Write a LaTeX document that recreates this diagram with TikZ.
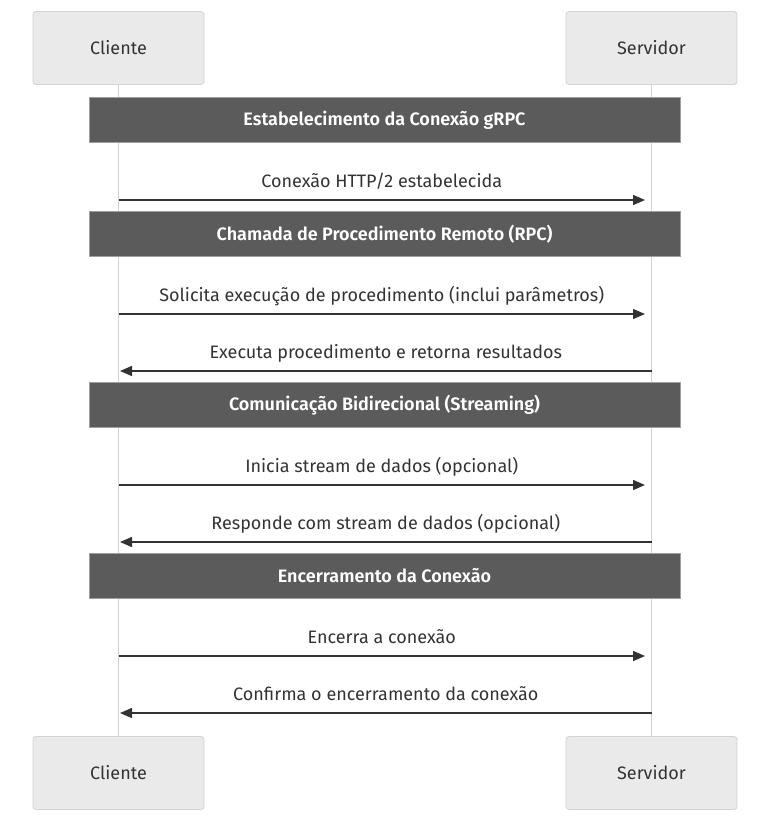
\documentclass[tikz,border=0pt]{standalone}
\usepackage{fontspec}
\setmainfont{Fira Sans}[BoldFont={Fira Sans SemiBold}]
\usepackage{tikz}
\usetikzlibrary{arrows.meta, positioning}

\definecolor{actorfill}{HTML}{EAEAEA}
\definecolor{actorline}{HTML}{D3D3D3}
\definecolor{notefill}{HTML}{5B5B5B}
\definecolor{noteline}{HTML}{A0A0A0}
\definecolor{msgline}{HTML}{333333}

\begin{document}
\begin{tikzpicture}[
    x=1pt, y=-1pt,
    font=\fontsize{18}{22}\selectfont,
    actor/.style={rectangle, minimum width=171pt, minimum height=73pt, draw=actorline, fill=actorfill, rounded corners=3pt, text=msgline, line width=0.8pt},
    note/.style={rectangle, minimum width=591pt, minimum height=45pt, draw=noteline, fill=notefill, text=white, line width=1pt, font=\fontsize{18}{22}\selectfont\bfseries},
    lifeline/.style={draw=actorline, line width=1.5pt},
    msg/.style={draw=msgline, line width=1.5pt, -{Triangle[length=12pt,width=10pt]}},
    msgtext/.style={text=msgline, anchor=base, yshift=13pt, inner sep=0pt}
]
\useasboundingbox (0,0) rectangle (771,824);

\node (cliTop) [actor] at (118.5,48) {Cliente};
\node (srvTop) [actor] at (651.5,48) {Servidor};
\node (cliBot) [actor] at (118.5,773) {Cliente};
\node (srvBot) [actor] at (651.5,773) {Servidor};

\draw [lifeline] (cliTop) -- (cliBot);
\draw [lifeline] (srvTop) -- (srvBot);

\node (estab) [note] at (384.5,120) {Estabelecimento da Conexão gRPC};
\node (rpc) [note] at (384.5,234) {Chamada de Procedimento Remoto (RPC)};
\node (stream) [note] at (384.5,405) {Comunicação Bidirecional (Streaming)};
\node (fim) [note] at (384.5,576) {Encerramento da Conexão};

% pontos nas linhas de vida
\coordinate (c1) at (118.5,200); \coordinate (s1) at (645,200);
\coordinate (c2) at (118.5,314); \coordinate (s2) at (645,314);
\coordinate (c3) at (120,371); \coordinate (s3) at (651.5,371);
\coordinate (c4) at (118.5,485); \coordinate (s4) at (645,485);
\coordinate (c5) at (120,542); \coordinate (s5) at (651.5,542);
\coordinate (c6) at (118.5,656); \coordinate (s6) at (645,656);
\coordinate (c7) at (120,713); \coordinate (s7) at (651.5,713);

\draw [msg] (c1) -- node[msgtext] {Conexão HTTP/2 estabelecida} (s1);
\draw [msg] (c2) -- node[msgtext] {Solicita execução de procedimento (inclui parâmetros)} (s2);
\draw [msg] (s3) -- node[msgtext] {Executa procedimento e retorna resultados} (c3);
\draw [msg] (c4) -- node[msgtext] {Inicia stream de dados (opcional)} (s4);
\draw [msg] (s5) -- node[msgtext] {Responde com stream de dados (opcional)} (c5);
\draw [msg] (c6) -- node[msgtext] {Encerra a conexão} (s6);
\draw [msg] (s7) -- node[msgtext] {Confirma o encerramento da conexão} (c7);

\end{tikzpicture}
\end{document}
